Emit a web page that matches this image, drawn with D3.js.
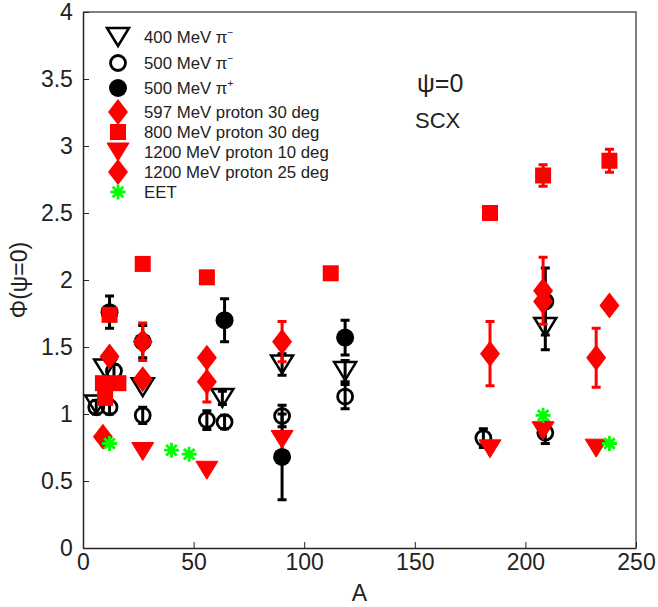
<!DOCTYPE html>
<html lang="en">
  <head>
    <meta charset="utf-8">
    <title>SCX phi(psi=0)</title>
    <script src="https://cdn.jsdelivr.net/npm/d3@7"></script>
    <style>
      body { margin: 0; background: #fff; }
      text { font-family: "Liberation Sans", Arial, sans-serif; fill: #222; }
    </style>
  </head>
  <body>
    <script>
      // data: [A, value, error]
      var pim400 = [[6,1.07,0],[10,1.34,0],[27,1.20,0],[63,1.12,0.05],[90,1.37,0.08],[118.5,1.32,0.08],[209,1.65,0.17]];
      var pim500 = [[6,1.05,0.05],[12,1.05,0.05],[14,1.32,0.05],[27,0.99,0.06],[56,0.955,0.07],[64,0.94,0.05],[90,0.985,0.08],[118.5,1.13,0.09],[181,0.82,0.07],[209,0.86,0.08]];
      var pip500 = [[12,1.76,0.12],[27,1.54,0.12],[64,1.70,0.16],[90,0.68,0.32],[118.5,1.57,0.13],[209,1.84,0.25]];
      var p597 = [[12,1.43,0],[27,1.26,0],[56,1.42,0],[208,1.84,0],[238,1.81,0]];
      var p800 = [[9,1.23,0],[10,1.12,0],[12,1.74,0],[16,1.23,0],[27,2.12,0],[56,2.02,0],[112,2.05,0],[184,2.50,0],[208,2.78,0.08],[238,2.89,0.085]];
      var p1200a = [[27,0.72,0],[56,0.58,0],[90,0.81,0],[184,0.74,0],[208,0.875,0],[232,0.745,0]];
      var p1200b = [[9,0.83,0],[27,1.54,0.14],[56,1.24,0.15],[90,1.54,0.15],[184,1.45,0.24],[208,1.92,0.25],[232,1.42,0.22]];
      var eet = [[12,0.78],[40,0.73],[48,0.70],[208,0.99],[238,0.78]];

      var xTicks = [0, 50, 100, 150, 200, 250];
      var yTicks = [0, 0.5, 1, 1.5, 2, 2.5, 3, 3.5, 4];

      var w = 658, h = 607;
      var pLeft = 83, pRight = 636, pTop = 12, pBottom = 548;

      var xScale = d3.scaleLinear().domain([0, 250]).range([pLeft, pRight]);
      var yScale = d3.scaleLinear().domain([0, 4]).range([pBottom, pTop]);

      var svg = d3.select("body").append("svg")
          .attr("width", w)
          .attr("height", h);

      // box
      svg.append("path")
          .attr("d", "M" + pLeft + "," + pTop + "H" + pRight + "V" + pBottom)
          .attr("fill", "none")
          .attr("stroke", "#5d5068")
          .attr("stroke-width", 1.5);

      var xAxis = d3.axisBottom(xScale).tickValues(xTicks).tickSizeInner(-6).tickSizeOuter(0).tickPadding(8);
      var yAxis = d3.axisLeft(yScale).tickValues(yTicks).tickSizeInner(-6).tickSizeOuter(0).tickPadding(9)
          .tickFormat(d3.format("~g"));

      var gx = svg.append("g")
          .attr("transform", "translate(0," + pBottom + ")")
          .call(xAxis);
      var gy = svg.append("g")
          .attr("transform", "translate(" + pLeft + ",0)")
          .call(yAxis);
      [gx, gy].forEach(function(g) {
        g.select(".domain").attr("stroke", "#262626").attr("stroke-width", 1.5);
        g.selectAll(".tick line").attr("stroke", "#262626").attr("stroke-width", 1);
        g.selectAll(".tick text")
          .attr("font-family", "'Liberation Sans', Arial, sans-serif")
          .attr("font-size", 23)
          .attr("fill", "#222");
      });
      gx.selectAll(".tick text").attr("dy", "0.6em");
      gy.selectAll(".tick text").attr("dx", "-0.05em");

      svg.append("text")
          .attr("x", (pLeft + pRight) / 2)
          .attr("y", 601)
          .attr("text-anchor", "middle")
          .style("font-size", "23px")
          .text("A");

      svg.append("text")
          .attr("transform", "translate(27," + (pBottom + pTop) / 2 + ") rotate(-90)")
          .attr("text-anchor", "middle")
          .style("font-size", "23px")
          .text("\u03A6(\u03C8=0)");

      svg.append("text")
          .attr("x", 417).attr("y", 92)
          .style("font-size", "25px")
          .text("\u03C8=0");
      svg.append("text")
          .attr("x", 415).attr("y", 128)
          .style("font-size", "22px")
          .text("SCX");

      // markers
      function drawMarker(g, type, x, y) {
        if (type === "triO" || type === "triF") {
          var tw = 11, th = 9;
          g.append("path")
            .attr("d", "M" + (x - tw) + "," + (y - th) + "L" + (x + tw) + "," + (y - th) + "L" + x + "," + (y + th) + "Z")
            .attr("fill", type === "triF" ? "red" : "none")
            .attr("stroke", type === "triF" ? "red" : "black")
            .attr("stroke-width", type === "triF" ? 1 : 2.5)
            .attr("stroke-linejoin", "miter");
        } else if (type === "circO") {
          g.append("circle").attr("cx", x).attr("cy", y).attr("r", 7.5)
            .attr("fill", "none").attr("stroke", "black").attr("stroke-width", 2.8);
        } else if (type === "circF") {
          g.append("circle").attr("cx", x).attr("cy", y).attr("r", 9)
            .attr("fill", "black");
        } else if (type === "diam") {
          g.append("path")
            .attr("d", "M" + x + "," + (y - 13) + "L" + (x + 10) + "," + y + "L" + x + "," + (y + 13) + "L" + (x - 10) + "," + y + "Z")
            .attr("fill", "red");
        } else if (type === "sq") {
          g.append("rect").attr("x", x - 8).attr("y", y - 8).attr("width", 16).attr("height", 16)
            .attr("fill", "red");
        } else if (type === "star") {
          var r = 7.5;
          var d = "";
          for (var k = 0; k < 4; k++) {
            var a = k * Math.PI / 4;
            d += "M" + (x - r * Math.cos(a)) + "," + (y - r * Math.sin(a)) + "L" + (x + r * Math.cos(a)) + "," + (y + r * Math.sin(a));
          }
          g.append("path").attr("d", d).attr("stroke", "#00ff00").attr("stroke-width", 2.8);
        }
      }

      function drawSeries(data, type, color) {
        var g = svg.append("g");
        data.forEach(function(d) {
          var cx = xScale(d[0]), cy = yScale(d[1]);
          if (d[2]) {
            var y0 = yScale(d[1] - d[2]), y1 = yScale(d[1] + d[2]);
            g.append("path")
              .attr("d", "M" + cx + "," + y0 + "V" + y1 + "M" + (cx - 4.5) + "," + y0 + "H" + (cx + 4.5) + "M" + (cx - 4.5) + "," + y1 + "H" + (cx + 4.5))
              .attr("stroke", color)
              .attr("stroke-width", 3)
              .attr("fill", "none");
          }
          drawMarker(g, type, cx, cy);
        });
      }

      drawSeries(pim400, "triO", "black");
      drawSeries(pim500, "circO", "black");
      drawSeries(pip500, "circF", "black");
      drawSeries(p597, "diam", "red");
      drawSeries(p800, "sq", "red");
      drawSeries(p1200a, "triF", "red");
      drawSeries(p1200b, "diam", "red");
      drawSeries(eet, "star", "#00ff00");

      // legend
      var legendItems = [
        {type: "triO", label: "400 MeV \u03C0", sup: "\u2212", y: 37},
        {type: "circO", label: "500 MeV \u03C0", sup: "\u2212", y: 63},
        {type: "circF", label: "500 MeV \u03C0", sup: "+", y: 88},
        {type: "diam", label: "597 MeV proton 30 deg", y: 112},
        {type: "sq", label: "800 MeV proton 30 deg", y: 132},
        {type: "triF", label: "1200 MeV proton 10 deg", y: 152},
        {type: "diam", label: "1200 MeV proton 25 deg", y: 172},
        {type: "star", label: "EET", y: 192}
      ];
      var lg = svg.append("g");
      legendItems.forEach(function(it) {
        drawMarker(lg, it.type, 118, it.y);
        var t = lg.append("text")
          .attr("x", 144)
          .attr("y", it.y + 6)
          .style("font-size", "16.8px")
          .text(it.label);
        if (it.sup) {
          t.append("tspan")
            .attr("dy", -7)
            .style("font-size", "10px")
            .text(it.sup);
        }
      });
    </script>
  </body>
</html>
